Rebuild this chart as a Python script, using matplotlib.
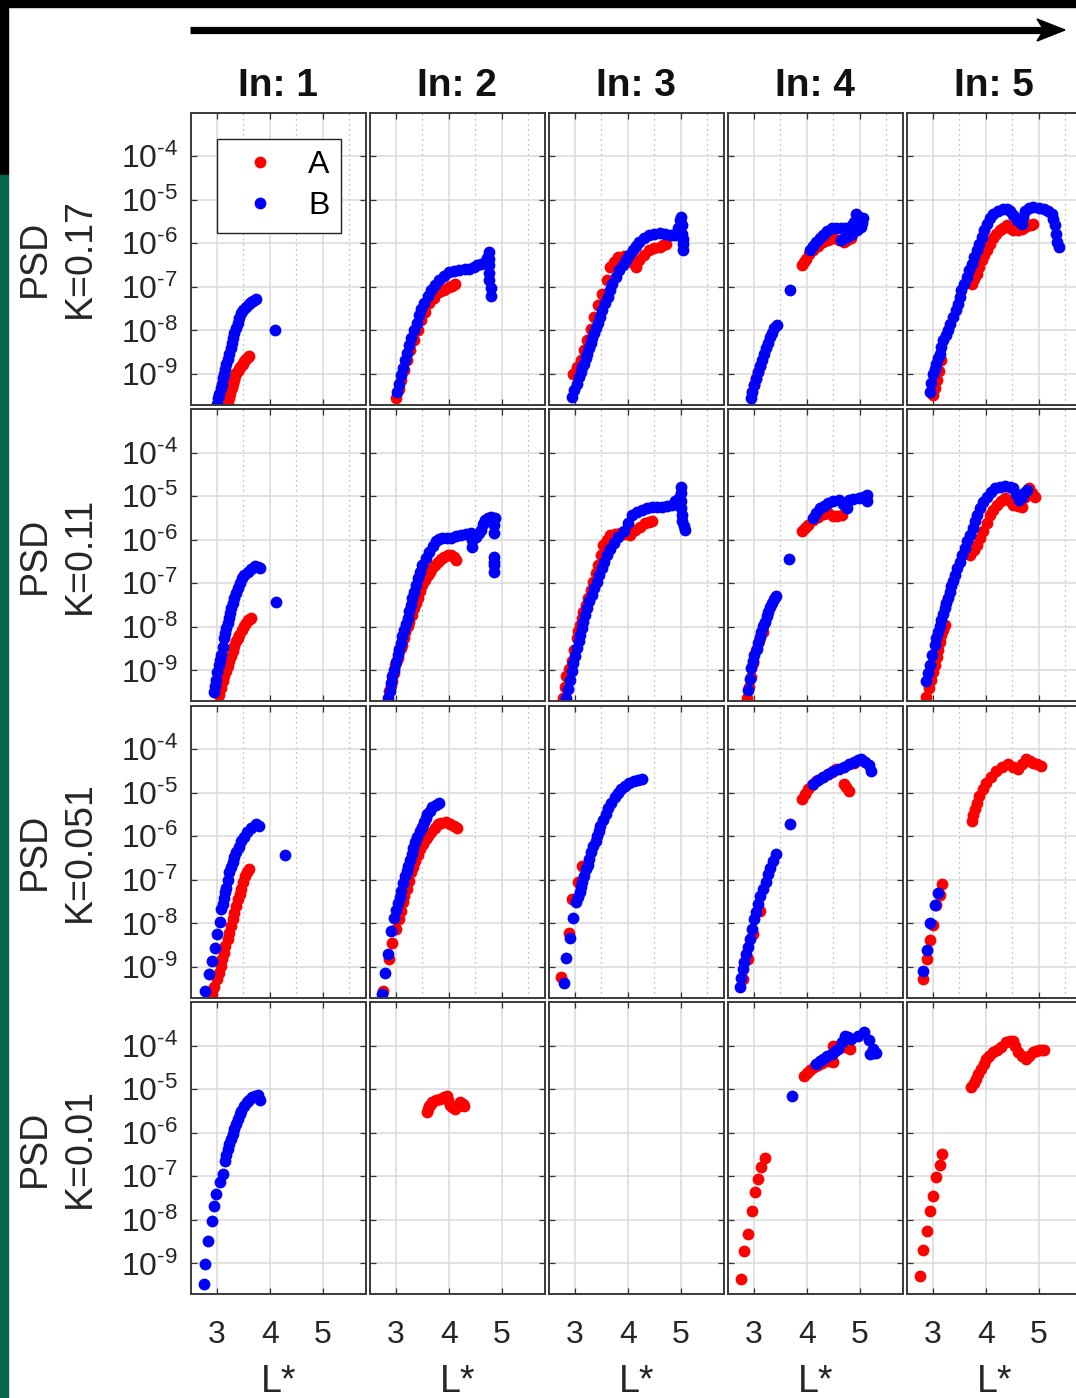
import numpy as np
import matplotlib
matplotlib.use('Agg')
import matplotlib.pyplot as plt
from matplotlib.patches import Rectangle, Polygon
from matplotlib.lines import Line2D
from matplotlib.ticker import FixedLocator, NullLocator, FuncFormatter

plt.rcParams['font.family'] = ['Liberation Sans', 'DejaVu Sans']
plt.rcParams['mathtext.fontset'] = 'custom'
plt.rcParams['mathtext.rm'] = 'Liberation Sans'
plt.rcParams['mathtext.it'] = 'Liberation Sans:italic'
plt.rcParams['mathtext.bf'] = 'Liberation Sans:bold'
plt.rcParams['axes.unicode_minus'] = False

# column / row labels
inputs = ['In: 1', 'In: 2', 'In: 3', 'In: 4', 'In: 5']
k_values = ['0.17', '0.11', '0.051', '0.01']
series_names = ['A', 'B']
x_ticks = [3, 4, 5]
y_exponents = [-9, -8, -7, -6, -5, -4]

# data: (L*, log10 PSD) pairs
# ---- K = 0.17 ----
k017_in1_A = [(3.20, -9.68), (3.22, -9.56), (3.25, -9.45), (3.28, -9.33), (3.30, -9.22),
              (3.33, -9.13), (3.35, -9.05), (3.37, -8.98), (3.39, -8.92), (3.42, -8.88),
              (3.44, -8.84), (3.47, -8.80), (3.49, -8.76), (3.52, -8.70), (3.55, -8.65),
              (3.58, -8.61), (3.60, -8.58)]
k017_in1_B = [(3.01, -9.68), (3.02, -9.56), (3.04, -9.45), (3.07, -9.33), (3.10, -9.22),
              (3.12, -9.10), (3.14, -8.99), (3.16, -8.88), (3.18, -8.76), (3.20, -8.65),
              (3.23, -8.53), (3.26, -8.41), (3.29, -8.30), (3.31, -8.18), (3.33, -8.07),
              (3.36, -7.95), (3.39, -7.84), (3.42, -7.72), (3.46, -7.61), (3.50, -7.53),
              (3.55, -7.46), (3.60, -7.40), (3.65, -7.35), (3.69, -7.32), (3.73, -7.29),
              (4.09, -8.00)]
k017_in2_A = [(3.00, -9.56), (3.05, -9.35), (3.10, -9.14), (3.15, -8.91), (3.21, -8.69),
              (3.27, -8.46), (3.34, -8.23), (3.41, -8.00), (3.48, -7.77), (3.55, -7.57),
              (3.63, -7.38), (3.72, -7.25), (3.82, -7.13), (3.91, -7.07), (4.01, -7.01),
              (4.07, -6.97), (4.12, -6.94)]
k017_in2_B = [(3.02, -9.42), (3.06, -9.22), (3.10, -9.03), (3.13, -8.86), (3.17, -8.69),
              (3.21, -8.51), (3.25, -8.34), (3.29, -8.17), (3.34, -8.00), (3.39, -7.82),
              (3.44, -7.65), (3.48, -7.50), (3.53, -7.36), (3.60, -7.22), (3.67, -7.08),
              (3.74, -6.96), (3.82, -6.85), (3.91, -6.76), (4.01, -6.67), (4.10, -6.64),
              (4.20, -6.62), (4.30, -6.60), (4.39, -6.58), (4.47, -6.54), (4.54, -6.51),
              (4.61, -6.47), (4.68, -6.44), (4.73, -6.33), (4.77, -6.21), (4.77, -6.36),
              (4.77, -6.51), (4.77, -6.68), (4.77, -6.85), (4.79, -7.02), (4.79, -7.20)]
k017_in3_A = [(2.96, -8.99), (3.04, -8.84), (3.11, -8.69), (3.17, -8.46), (3.23, -8.23),
              (3.30, -7.96), (3.37, -7.69), (3.44, -7.42), (3.52, -7.16), (3.60, -6.85),
              (3.67, -6.55), (3.74, -6.43), (3.81, -6.32), (3.92, -6.30), (4.03, -6.32),
              (4.10, -6.45), (4.16, -6.55), (4.22, -6.39), (4.31, -6.27), (4.41, -6.16),
              (4.50, -6.12), (4.60, -6.09), (4.67, -6.05), (4.73, -6.01)]
k017_in3_B = [(2.95, -9.53), (2.99, -9.37), (3.03, -9.22), (3.07, -9.08), (3.11, -8.95),
              (3.14, -8.85), (3.17, -8.76), (3.20, -8.64), (3.23, -8.53), (3.27, -8.41),
              (3.30, -8.30), (3.33, -8.18), (3.36, -8.07), (3.40, -7.95), (3.44, -7.84),
              (3.48, -7.69), (3.52, -7.54), (3.57, -7.38), (3.62, -7.23), (3.66, -7.08),
              (3.71, -6.93), (3.77, -6.77), (3.84, -6.62), (3.90, -6.50), (3.97, -6.39),
              (4.03, -6.27), (4.09, -6.16), (4.15, -6.06), (4.22, -5.97), (4.31, -5.89),
              (4.41, -5.82), (4.50, -5.79), (4.60, -5.77), (4.70, -5.78), (4.79, -5.80),
              (4.86, -5.81), (4.92, -5.82), (4.95, -5.65), (4.98, -5.47), (5.01, -5.40),
              (5.02, -5.59), (5.03, -5.78), (5.04, -5.90), (5.04, -6.01), (5.04, -6.16)]
k017_in4_A = [(2.96, -9.42), (3.00, -9.26), (3.04, -9.10), (3.08, -8.96), (3.11, -8.82),
              (3.90, -6.51), (3.95, -6.43), (3.99, -6.35), (4.05, -6.25), (4.12, -6.16),
              (4.21, -6.07), (4.31, -5.98), (4.40, -5.92), (4.50, -5.87), (4.60, -5.92),
              (4.70, -5.98), (4.77, -5.93), (4.83, -5.89)]
k017_in4_B = [(2.94, -9.56), (2.97, -9.41), (3.00, -9.26), (3.04, -9.11), (3.08, -8.96),
              (3.11, -8.82), (3.15, -8.69), (3.19, -8.55), (3.23, -8.41), (3.27, -8.28),
              (3.30, -8.16), (3.34, -8.05), (3.38, -7.95), (3.44, -7.88), (3.69, -7.08),
              (4.07, -6.16), (4.12, -6.07), (4.18, -5.98), (4.25, -5.89), (4.31, -5.80),
              (4.39, -5.73), (4.47, -5.66), (4.55, -5.65), (4.64, -5.64), (4.72, -5.65),
              (4.79, -5.66), (4.85, -5.59), (4.90, -5.52), (4.94, -5.32), (4.98, -5.40),
              (5.06, -5.43), (5.04, -5.53), (5.02, -5.62), (4.95, -5.70), (4.86, -5.78),
              (4.79, -5.84), (4.72, -5.88), (4.64, -5.93)]
k017_in5_A = [(3.00, -9.49), (3.04, -9.31), (3.08, -9.14), (3.12, -8.92), (3.16, -8.69),
              (3.73, -6.93), (3.78, -6.82), (3.83, -6.70), (3.87, -6.55), (3.92, -6.39),
              (3.97, -6.27), (4.02, -6.16), (4.08, -6.02), (4.14, -5.89), (4.20, -5.79),
              (4.27, -5.70), (4.33, -5.64), (4.40, -5.59), (4.46, -5.65), (4.52, -5.70),
              (4.60, -5.69), (4.68, -5.67), (4.75, -5.62), (4.81, -5.59), (4.86, -5.57),
              (4.90, -5.55)]
k017_in5_B = [(2.94, -9.41), (2.97, -9.20), (3.00, -8.99), (3.03, -8.88), (3.06, -8.76),
              (3.10, -8.64), (3.13, -8.53), (3.16, -8.38), (3.19, -8.23), (3.24, -8.11),
              (3.29, -8.00), (3.33, -7.85), (3.38, -7.69), (3.43, -7.54), (3.48, -7.39),
              (3.51, -7.23), (3.54, -7.08), (3.59, -6.93), (3.64, -6.78), (3.68, -6.62),
              (3.73, -6.47), (3.78, -6.31), (3.83, -6.16), (3.87, -6.01), (3.92, -5.86),
              (3.97, -5.70), (4.02, -5.55), (4.08, -5.43), (4.14, -5.32), (4.23, -5.26),
              (4.33, -5.21), (4.40, -5.22), (4.46, -5.25), (4.52, -5.36), (4.59, -5.47),
              (4.64, -5.52), (4.68, -5.55), (4.71, -5.40), (4.75, -5.25), (4.82, -5.20),
              (4.90, -5.17), (5.00, -5.19), (5.10, -5.21), (5.18, -5.26), (5.26, -5.32),
              (5.28, -5.45), (5.30, -5.59), (5.33, -5.78), (5.35, -5.97), (5.38, -6.09)]

# ---- K = 0.11 ----
k011_in1_A = [(3.04, -9.57), (3.07, -9.41), (3.11, -9.25), (3.14, -9.13), (3.17, -9.02),
              (3.20, -8.90), (3.23, -8.79), (3.27, -8.67), (3.30, -8.56), (3.33, -8.44),
              (3.36, -8.33), (3.39, -8.25), (3.42, -8.18), (3.47, -8.08), (3.51, -7.99),
              (3.55, -7.91), (3.58, -7.84), (3.62, -7.82), (3.65, -7.80)]
k011_in1_B = [(2.95, -9.50), (2.97, -9.35), (2.99, -9.21), (3.01, -9.04), (3.04, -8.87),
              (3.06, -8.75), (3.08, -8.64), (3.11, -8.45), (3.13, -8.26), (3.15, -8.14),
              (3.17, -8.03), (3.20, -7.91), (3.22, -7.80), (3.24, -7.68), (3.26, -7.57),
              (3.30, -7.45), (3.33, -7.34), (3.36, -7.22), (3.39, -7.11), (3.43, -6.99),
              (3.47, -6.88), (3.52, -6.80), (3.58, -6.73), (3.65, -6.67), (3.72, -6.61),
              (3.77, -6.62), (3.81, -6.64), (4.11, -7.43)]
k011_in2_A = [(2.87, -9.48), (2.90, -9.36), (2.93, -9.25), (2.96, -9.06), (2.99, -8.87),
              (3.03, -8.71), (3.06, -8.56), (3.09, -8.48), (3.12, -8.41), (3.15, -8.26),
              (3.18, -8.11), (3.22, -7.99), (3.25, -7.88), (3.30, -7.72), (3.34, -7.57),
              (3.38, -7.45), (3.41, -7.34), (3.46, -7.18), (3.50, -7.03), (3.55, -6.92),
              (3.60, -6.81), (3.65, -6.73), (3.69, -6.65), (3.74, -6.57), (3.79, -6.50),
              (3.85, -6.44), (3.91, -6.39), (3.98, -6.36), (4.04, -6.35), (4.09, -6.40),
              (4.14, -6.46)]
k011_in2_B = [(2.85, -9.63), (2.88, -9.46), (2.90, -9.29), (2.93, -9.13), (2.96, -8.98),
              (3.00, -8.81), (3.03, -8.64), (3.06, -8.50), (3.09, -8.37), (3.12, -8.22),
              (3.15, -8.07), (3.19, -7.93), (3.22, -7.80), (3.25, -7.64), (3.28, -7.49),
              (3.31, -7.34), (3.34, -7.19), (3.38, -7.03), (3.41, -6.88), (3.45, -6.73),
              (3.50, -6.58), (3.56, -6.42), (3.63, -6.27), (3.70, -6.15), (3.76, -6.04),
              (3.82, -5.99), (3.88, -5.95), (3.96, -5.95), (4.04, -5.96), (4.13, -5.92),
              (4.23, -5.89), (4.32, -5.87), (4.42, -5.85), (4.43, -6.00), (4.43, -6.16),
              (4.48, -5.95), (4.52, -5.93), (4.57, -5.85), (4.61, -5.77), (4.65, -5.65),
              (4.68, -5.54), (4.74, -5.50), (4.80, -5.47), (4.87, -5.50), (4.86, -5.67),
              (4.85, -5.85), (4.85, -6.39), (4.85, -6.50), (4.85, -6.58), (4.85, -6.73)]
k011_in3_A = [(2.78, -9.63), (2.81, -9.38), (2.84, -9.13), (2.89, -8.96), (2.94, -8.79),
              (2.98, -8.52), (3.03, -8.26), (3.06, -8.10), (3.10, -7.95), (3.13, -7.80),
              (3.16, -7.65), (3.20, -7.50), (3.25, -7.34), (3.30, -7.15), (3.35, -6.96),
              (3.39, -6.77), (3.44, -6.58), (3.49, -6.35), (3.54, -6.12), (3.60, -6.00),
              (3.67, -5.89), (3.76, -5.86), (3.86, -5.85), (3.95, -5.87), (4.05, -5.89),
              (4.14, -5.77), (4.23, -5.70), (4.33, -5.62), (4.40, -5.60), (4.46, -5.58)]
k011_in3_B = [(2.84, -9.63), (2.87, -9.42), (2.90, -9.21), (2.94, -9.02), (2.97, -8.83),
              (3.00, -8.66), (3.03, -8.49), (3.07, -8.33), (3.10, -8.18), (3.13, -8.03),
              (3.16, -7.88), (3.19, -7.72), (3.22, -7.57), (3.27, -7.41), (3.32, -7.26),
              (3.37, -7.11), (3.41, -6.96), (3.46, -6.80), (3.51, -6.65), (3.55, -6.50),
              (3.60, -6.35), (3.66, -6.21), (3.73, -6.08), (3.82, -5.94), (3.92, -5.81),
              (4.00, -5.62), (4.08, -5.43), (4.17, -5.37), (4.27, -5.31), (4.36, -5.27),
              (4.46, -5.24), (4.55, -5.24), (4.65, -5.24), (4.75, -5.22), (4.84, -5.20),
              (4.90, -5.12), (4.97, -5.05), (5.00, -4.78), (5.00, -4.92), (5.00, -5.10),
              (5.00, -5.28), (5.02, -5.43), (5.03, -5.58), (5.06, -5.68), (5.08, -5.78)]
k011_in4_A = [(2.87, -9.63), (2.90, -9.38), (2.94, -9.14), (2.99, -8.83), (3.04, -8.53),
              (3.10, -8.32), (3.17, -8.11), (3.90, -5.81), (3.96, -5.73), (4.03, -5.66),
              (4.12, -5.55), (4.22, -5.47), (4.32, -5.42), (4.41, -5.39), (4.50, -5.45),
              (4.58, -5.46), (4.66, -5.43)]
k011_in4_B = [(2.89, -9.44), (2.92, -9.19), (2.95, -8.94), (2.98, -8.79), (3.01, -8.64),
              (3.05, -8.50), (3.08, -8.37), (3.11, -8.24), (3.14, -8.11), (3.17, -7.99),
              (3.20, -7.88), (3.24, -7.76), (3.27, -7.65), (3.31, -7.55), (3.34, -7.45),
              (3.38, -7.37), (3.42, -7.30), (3.67, -6.44), (4.12, -5.50), (4.18, -5.39),
              (4.25, -5.28), (4.33, -5.22), (4.41, -5.16), (4.50, -5.12), (4.60, -5.08),
              (4.68, -5.18), (4.76, -5.28), (4.79, -5.08), (4.88, -5.06), (4.98, -5.05),
              (5.06, -5.01), (5.14, -4.97), (5.14, -5.12)]
k011_in5_A = [(2.87, -9.60), (2.92, -9.40), (2.97, -9.21), (3.00, -9.04), (3.03, -8.87),
              (3.07, -8.70), (3.10, -8.53), (3.13, -8.35), (3.16, -8.18), (3.19, -8.06),
              (3.22, -7.95), (3.70, -6.35), (3.77, -6.23), (3.83, -6.12), (3.89, -5.96),
              (3.95, -5.81), (4.02, -5.62), (4.08, -5.43), (4.14, -5.31), (4.21, -5.20),
              (4.29, -5.12), (4.37, -5.05), (4.45, -5.12), (4.52, -5.20), (4.60, -5.22),
              (4.68, -5.24), (4.75, -5.03), (4.81, -4.82), (4.88, -4.92), (4.94, -5.01)]
k011_in5_B = [(2.87, -9.25), (2.90, -9.06), (2.94, -8.87), (2.98, -8.64), (3.03, -8.41),
              (3.06, -8.26), (3.10, -8.11), (3.13, -7.97), (3.16, -7.84), (3.19, -7.70),
              (3.22, -7.57), (3.25, -7.45), (3.29, -7.34), (3.32, -7.20), (3.35, -7.07),
              (3.38, -6.94), (3.41, -6.81), (3.46, -6.65), (3.51, -6.50), (3.55, -6.34),
              (3.60, -6.19), (3.65, -6.04), (3.70, -5.89), (3.75, -5.73), (3.79, -5.58),
              (3.84, -5.43), (3.89, -5.28), (3.95, -5.14), (4.02, -5.01), (4.10, -4.91),
              (4.18, -4.82), (4.27, -4.78), (4.37, -4.76), (4.45, -4.78), (4.52, -4.82),
              (4.57, -4.95), (4.62, -5.08), (4.68, -5.01), (4.73, -4.93), (4.78, -4.86)]

# ---- K = 0.051 ----
k0051_in1_A = [(2.90, -9.63), (2.95, -9.45), (3.00, -9.28), (3.03, -9.13), (3.07, -8.98),
               (3.10, -8.82), (3.13, -8.67), (3.16, -8.51), (3.20, -8.36), (3.23, -8.21),
               (3.26, -8.06), (3.30, -7.90), (3.33, -7.75), (3.36, -7.60), (3.40, -7.45),
               (3.43, -7.33), (3.46, -7.22), (3.50, -7.06), (3.53, -6.91), (3.57, -6.83),
               (3.60, -6.76)]
k0051_in1_B = [(2.78, -9.55), (2.85, -9.17), (2.90, -8.86), (2.97, -8.56), (3.00, -8.25),
               (3.05, -7.97), (3.08, -7.68), (3.11, -7.55), (3.13, -7.41), (3.16, -7.29),
               (3.18, -7.18), (3.20, -7.00), (3.23, -6.83), (3.27, -6.71), (3.30, -6.60),
               (3.33, -6.48), (3.36, -6.37), (3.41, -6.24), (3.46, -6.11), (3.51, -6.01),
               (3.56, -5.91), (3.64, -5.81), (3.73, -5.72), (3.79, -5.76), (4.28, -6.43)]
k0051_in2_A = [(2.76, -9.55), (2.87, -8.82), (2.93, -8.44), (3.00, -8.13), (3.05, -7.90),
               (3.09, -7.71), (3.13, -7.52), (3.16, -7.37), (3.20, -7.22), (3.24, -7.02),
               (3.28, -6.83), (3.32, -6.70), (3.36, -6.57), (3.41, -6.43), (3.46, -6.30),
               (3.51, -6.18), (3.56, -6.07), (3.61, -5.99), (3.67, -5.91), (3.73, -5.81),
               (3.79, -5.72), (3.86, -5.69), (3.94, -5.67), (4.02, -5.71), (4.09, -5.76),
               (4.16, -5.82)]
k0051_in2_B = [(2.74, -9.63), (2.79, -9.13), (2.85, -8.71), (2.91, -8.17), (2.97, -7.87),
               (3.00, -7.70), (3.03, -7.54), (3.07, -7.40), (3.10, -7.25), (3.13, -7.08),
               (3.17, -6.91), (3.20, -6.80), (3.23, -6.68), (3.27, -6.55), (3.30, -6.41),
               (3.33, -6.28), (3.36, -6.14), (3.40, -6.01), (3.45, -5.88), (3.49, -5.78),
               (3.53, -5.68), (3.56, -5.58), (3.59, -5.49), (3.64, -5.41), (3.69, -5.34),
               (3.75, -5.28), (3.81, -5.23)]
k0051_in3_A = [(2.74, -9.24), (2.89, -8.21), (2.95, -7.45), (3.05, -7.06), (3.14, -6.68)]
k0051_in3_B = [(2.79, -9.36), (2.83, -8.79), (2.90, -8.33), (2.97, -7.87), (3.02, -7.52),
               (3.06, -7.40), (3.09, -7.29), (3.12, -7.17), (3.14, -7.06), (3.18, -6.91),
               (3.21, -6.76), (3.24, -6.65), (3.27, -6.53), (3.31, -6.37), (3.35, -6.22),
               (3.39, -6.10), (3.42, -5.99), (3.45, -5.87), (3.48, -5.76), (3.53, -5.62),
               (3.58, -5.49), (3.63, -5.36), (3.68, -5.23), (3.75, -5.11), (3.81, -5.00),
               (3.88, -4.92), (3.95, -4.84), (4.03, -4.78), (4.11, -4.73), (4.19, -4.71),
               (4.26, -4.69)]
k0051_in4_A = [(2.79, -9.28), (2.89, -8.82), (2.98, -8.24), (3.11, -7.72), (3.90, -5.15),
               (3.96, -5.03), (4.03, -4.92), (4.10, -4.82), (4.18, -4.73), (4.30, -4.65),
               (4.41, -4.57), (4.48, -4.52), (4.56, -4.46), (4.70, -4.80), (4.75, -4.88),
               (4.79, -4.96), (4.90, -4.32)]
k0051_in4_B = [(2.73, -9.46), (2.76, -9.25), (2.79, -9.05), (2.82, -8.88), (2.85, -8.70),
               (2.88, -8.53), (2.92, -8.36), (2.96, -8.13), (3.00, -7.90), (3.04, -7.73),
               (3.08, -7.56), (3.12, -7.38), (3.17, -7.21), (3.22, -7.04), (3.27, -6.87),
               (3.31, -6.72), (3.36, -6.57), (3.42, -6.41), (3.69, -5.72), (4.12, -4.80),
               (4.21, -4.72), (4.31, -4.64), (4.40, -4.57), (4.50, -4.50), (4.60, -4.45),
               (4.70, -4.41), (4.80, -4.35), (4.89, -4.30), (4.96, -4.26), (5.02, -4.23),
               (5.10, -4.30), (5.17, -4.37), (5.21, -4.50)]
k0051_in5_A = [(2.82, -9.27), (2.89, -8.81), (2.95, -8.38), (3.00, -8.04), (3.06, -7.58),
               (3.13, -7.35), (3.18, -7.09), (3.73, -5.65), (3.76, -5.51), (3.79, -5.38),
               (3.83, -5.23), (3.88, -5.08), (3.94, -4.92), (4.01, -4.77), (4.10, -4.63),
               (4.20, -4.50), (4.31, -4.42), (4.42, -4.35), (4.52, -4.41), (4.61, -4.46),
               (4.69, -4.35), (4.77, -4.23), (4.83, -4.27), (4.89, -4.31), (4.97, -4.35),
               (5.05, -4.38)]
k0051_in5_B = [(2.82, -9.09), (2.89, -8.60), (2.95, -7.98), (3.03, -7.58), (3.09, -7.31)]

# ---- K = 0.01 ----
k001_in1_A = []
k001_in1_B = [(2.75, -9.47), (2.78, -9.02), (2.83, -8.48), (2.90, -8.02), (2.95, -7.68),
              (2.99, -7.41), (3.05, -7.14), (3.11, -6.95), (3.15, -6.64), (3.18, -6.50),
              (3.20, -6.37), (3.23, -6.25), (3.26, -6.14), (3.30, -6.02), (3.33, -5.91),
              (3.37, -5.79), (3.40, -5.68), (3.43, -5.58), (3.46, -5.49), (3.51, -5.39),
              (3.56, -5.30), (3.61, -5.24), (3.66, -5.19), (3.72, -5.16), (3.77, -5.13),
              (3.81, -5.24)]
k001_in2_A = [(3.59, -5.53), (3.61, -5.45), (3.63, -5.38), (3.66, -5.33), (3.69, -5.29),
              (3.76, -5.26), (3.83, -5.23), (3.90, -5.19), (3.96, -5.16), (3.99, -5.26),
              (4.02, -5.36), (4.07, -5.41), (4.12, -5.45), (4.17, -5.38), (4.22, -5.30),
              (4.26, -5.35), (4.29, -5.39)]
k001_in2_B = []
k001_in3_A = []
k001_in3_B = []
k001_in4_A = [(2.75, -9.36), (2.82, -8.72), (2.88, -8.33), (2.96, -7.80), (3.02, -7.37),
              (3.08, -7.06), (3.13, -6.79), (3.21, -6.59), (3.95, -4.70), (4.00, -4.64),
              (4.06, -4.57), (4.14, -4.50), (4.21, -4.44), (4.28, -4.39), (4.34, -4.34),
              (4.42, -4.36), (4.50, -4.37), (4.50, -4.18), (4.50, -4.00), (4.58, -4.00),
              (4.65, -4.00), (4.73, -4.04), (4.81, -4.08)]
k001_in4_B = [(3.72, -5.16), (4.18, -4.42), (4.25, -4.36), (4.31, -4.31), (4.39, -4.25),
              (4.47, -4.19), (4.53, -4.13), (4.59, -4.08), (4.66, -3.92), (4.72, -3.77),
              (4.78, -3.81), (4.84, -3.85), (4.96, -3.77), (5.09, -3.69), (5.17, -3.88),
              (5.25, -4.08), (5.31, -4.17), (5.25, -4.18), (5.19, -4.19)]
k001_in5_A = [(2.76, -9.28), (2.82, -8.69), (2.89, -8.26), (2.94, -7.80), (3.00, -7.45),
              (3.06, -7.02), (3.13, -6.73), (3.18, -6.49), (3.72, -4.96), (3.77, -4.86),
              (3.82, -4.77), (3.86, -4.65), (3.91, -4.54), (3.96, -4.42), (4.01, -4.31),
              (4.07, -4.23), (4.13, -4.15), (4.21, -4.09), (4.29, -4.04), (4.38, -3.92),
              (4.45, -3.90), (4.51, -3.89), (4.55, -4.02), (4.60, -4.15), (4.68, -4.23),
              (4.76, -4.31), (4.82, -4.23), (4.89, -4.15), (4.95, -4.13), (5.01, -4.11),
              (5.06, -4.10), (5.11, -4.09)]
k001_in5_B = []

panels = [
    [(k017_in1_A, k017_in1_B), (k017_in2_A, k017_in2_B), (k017_in3_A, k017_in3_B),
     (k017_in4_A, k017_in4_B), (k017_in5_A, k017_in5_B)],
    [(k011_in1_A, k011_in1_B), (k011_in2_A, k011_in2_B), (k011_in3_A, k011_in3_B),
     (k011_in4_A, k011_in4_B), (k011_in5_A, k011_in5_B)],
    [(k0051_in1_A, k0051_in1_B), (k0051_in2_A, k0051_in2_B), (k0051_in3_A, k0051_in3_B),
     (k0051_in4_A, k0051_in4_B), (k0051_in5_A, k0051_in5_B)],
    [(k001_in1_A, k001_in1_B), (k001_in2_A, k001_in2_B), (k001_in3_A, k001_in3_B),
     (k001_in4_A, k001_in4_B), (k001_in5_A, k001_in5_B)],
]
colors = ['#ff0000', '#0000ff']


def pow10_label(v, pos):
    # MATLAB-style label with a short hyphen in the exponent
    e = int(round(np.log10(v)))
    return r'$10^{\text{-%d}}$' % (-e)


W, H = 1076, 1398
fig = plt.figure(figsize=(W / 100, H / 100), dpi=100)
fig.patch.set_facecolor('white')

# frame strips along the top and left edge
fig.add_artist(Rectangle((0, 1 - 7 / H), 1, 7 / H, transform=fig.transFigure,
                         color='black', zorder=0))
fig.add_artist(Rectangle((0, 1 - 175 / H), 8 / W, 175 / H, transform=fig.transFigure,
                         color='black', zorder=0))
fig.add_artist(Rectangle((0, 0), 8 / W, 1 - 175 / H, transform=fig.transFigure,
                         color='#04664a', zorder=0))

# big arrow across the top
ay = 1 - 30 / H
fig.add_artist(Line2D([190 / W, 1045 / W], [ay, ay], transform=fig.transFigure,
                      color='black', lw=5.2, solid_capstyle='butt'))
fig.add_artist(Polygon([(1065 / W, ay), (1037 / W, ay + 11 / H), (1044 / W, ay),
                        (1037 / W, ay - 11 / H)], closed=True, transform=fig.transFigure,
                       facecolor='black', edgecolor='black', lw=1))

ax_w, ax_h = 175.5, 292.0
ms = 8.5
for r in range(4):
    for c in range(5):
        left = 190.5 + 179.0 * c
        top = 112.5 + 296.5 * r
        ax = fig.add_axes([left / W, 1 - (top + ax_h) / H, ax_w / W, ax_h / H])
        ax.set_yscale('log')
        ax.set_xlim(2.5, 5.82)
        ax.set_ylim(10 ** -9.7, 1e-3)
        ax.yaxis.set_major_locator(FixedLocator([10.0 ** e for e in y_exponents]))
        ax.yaxis.set_minor_locator(NullLocator())
        ax.yaxis.set_major_formatter(FuncFormatter(pow10_label))
        ax.xaxis.set_major_locator(FixedLocator(x_ticks))
        if r < 3:
            ax.xaxis.set_minor_locator(FixedLocator([3.5, 4.5, 5.5]))
            ax.grid(which='minor', axis='x', color='#a8a8a8', ls=(0, (1, 3)), lw=0.9)
        else:
            ax.xaxis.set_minor_locator(NullLocator())
        ax.grid(which='major', color='#dadada', lw=1.1)
        ax.set_axisbelow(True)
        ax.tick_params(which='major', direction='in', length=4, width=0.9, top=True,
                       right=True, color='#333333', labelsize=23, labelcolor='#262626')
        ax.tick_params(which='minor', length=0)
        ax.tick_params(axis='y', pad=9)
        ax.tick_params(axis='x', pad=19)
        for sp in ax.spines.values():
            sp.set_color('#3a3a3a')
            sp.set_linewidth(1.4)
        if c > 0:
            ax.tick_params(labelleft=False)
        if r < 3:
            ax.tick_params(labelbottom=False)

        for name, pts, col in zip(series_names, panels[r][c], colors):
            if len(pts) == 0:
                continue
            pts = np.array(pts)
            ax.plot(pts[:, 0], 10.0 ** pts[:, 1], 'o', color=col, ms=ms, mec='none',
                    label=name)

        if r == 0:
            ax.set_title(inputs[c], fontsize=28, fontweight='bold', pad=12, color='#111111')
        if c == 0:
            ax.set_ylabel(f'PSD\nK={k_values[r]}', fontsize=27, linespacing=1.3,
                          color='#262626')
            ax.yaxis.set_label_coords(-0.53, 0.5)
        if r == 3:
            ax.set_xlabel('L*', fontsize=27, labelpad=10, color='#262626')
        if r == 0 and c == 0:
            handles = [Line2D([], [], ls='none', marker='o', ms=ms, mec='none', color=cc)
                       for cc in colors]
            leg = ax.legend(handles, series_names, loc='upper left',
                            bbox_to_anchor=(0.151, 0.909), fontsize=23, frameon=True,
                            fancybox=False, edgecolor='#222222', framealpha=1,
                            borderpad=0.35, handlelength=2.0, handletextpad=0.5,
                            labelspacing=0.35, borderaxespad=0)
            leg.get_frame().set_linewidth(1.0)

fig.savefig('out.png', dpi=100)
